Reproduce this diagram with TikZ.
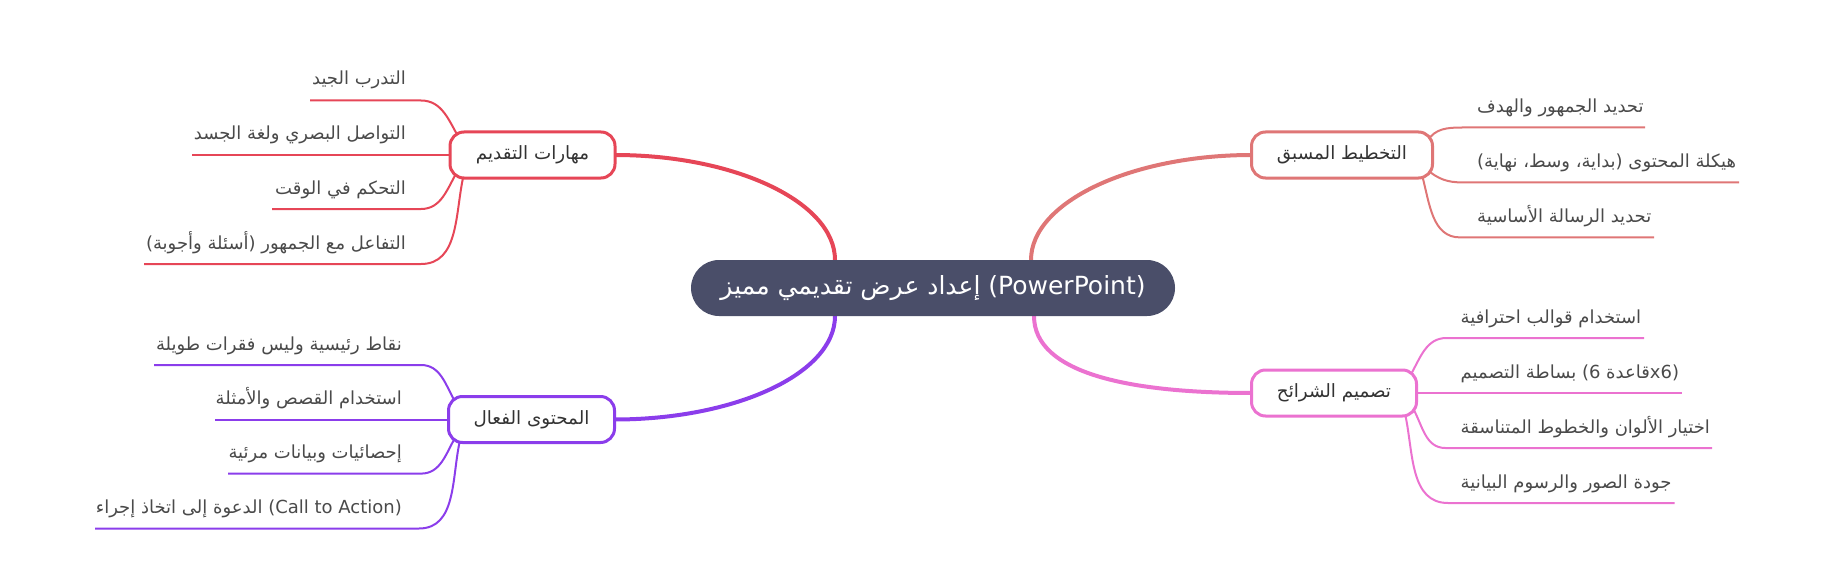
\documentclass[tikz,border=0pt]{standalone}
\usepackage{fontspec}
\setmainfont{DejaVu Sans}
\newfontfamily\arabicfont[Script=Arabic]{DejaVu Sans}
\TeXXeTstate=1
\newcommand\AR[1]{{\arabicfont\beginR #1\endR}}
\usetikzlibrary{calc,backgrounds}
\definecolor{cRed}{HTML}{E64657}
\definecolor{cSalmon}{HTML}{DF7676}
\definecolor{cPurple}{HTML}{8B3DEB}
\definecolor{cPink}{HTML}{EB72D0}
\definecolor{cCenter}{HTML}{4A4E69}
\definecolor{txtNode}{HTML}{333333}
\definecolor{txtLeaf}{HTML}{4A4A4A}
\begin{document}
\begin{tikzpicture}[x=1pt,y=-1pt,
  branchbox/.style={draw, line width=3pt, fill=white, rounded corners=14pt,
    minimum height=46pt, inner sep=0pt, outer sep=0pt,
    font=\fontsize{18.3}{21}\selectfont, text=txtNode},
  centerbox/.style={fill=cCenter, rounded corners=28pt, minimum width=484pt,
    minimum height=56pt, inner sep=0pt, outer sep=0pt,
    font=\fontsize{25}{28}\selectfont, text=white},
  leafL/.style={inner sep=0pt, anchor=base east, font=\fontsize{18}{21}\selectfont, text=txtLeaf},
  leafR/.style={inner sep=0pt, anchor=base west, font=\fontsize{18}{21}\selectfont, text=txtLeaf},
  mainedge/.style={line width=4pt},
  leafedge/.style={line width=2pt}]

\useasboundingbox (0,0) rectangle (1836,575);

% ---------- nodes ----------
\node[centerbox] (c) at (933,288) {\AR{إعداد عرض تقديمي مميز} (PowerPoint)};

\node[branchbox, draw=cRed, minimum width=165pt] (lt) at (532.5,155) {\AR{مهارات التقديم}};
\node[branchbox, draw=cPurple, minimum width=166pt] (lb) at (531.5,419.5) {\AR{المحتوى الفعال}};
\node[branchbox, draw=cSalmon, minimum width=181pt] (rt) at (1342,155) {\AR{التخطيط المسبق}};
\node[branchbox, draw=cPink, minimum width=165pt] (rb) at (1334,393) {\AR{تصميم الشرائح}};

% leaves: left top
\node[leafL] (lt1) at (406,85) {\AR{التدرب الجيد}};
\node[leafL] (lt2) at (406,139.5) {\AR{التواصل البصري ولغة الجسد}};
\node[leafL] (lt3) at (406,194) {\AR{التحكم في الوقت}};
\node[leafL] (lt4) at (406,249) {(\AR{أسئلة وأجوبة}) \AR{التفاعل مع الجمهور}};
% leaves: left bottom
\node[leafL] (lb1) at (402,350) {\AR{نقاط رئيسية وليس فقرات طويلة}};
\node[leafL] (lb2) at (402,404) {\AR{استخدام القصص والأمثلة}};
\node[leafL] (lb3) at (402,458.5) {\AR{إحصائيات وبيانات مرئية}};
\node[leafL] (lb4) at (402,513.5) {\AR{الدعوة إلى اتخاذ إجراء} (Call to Action)};
% leaves: right top
\node[leafR] (rt1) at (1477,112.5) {\AR{تحديد الجمهور والهدف}};
\node[leafR] (rt2) at (1477,167.5) {(\AR{بداية\hbox{،} وسط\hbox{،} نهاية}) \AR{هيكلة المحتوى}};
\node[leafR] (rt3) at (1477,222.5) {\AR{تحديد الرسالة الأساسية}};
% leaves: right bottom
\node[leafR] (rb1) at (1460.5,323) {\AR{استخدام قوالب احترافية}};
\node[leafR] (rb2) at (1460.5,378) {\AR{بساطة التصميم} (6 \AR{قاعدة}x6)};
\node[leafR] (rb3) at (1460.5,433) {\AR{اختيار الألوان والخطوط المتناسقة}};
\node[leafR] (rb4) at (1460.5,488) {\AR{جودة الصور والرسوم البيانية}};

% ---------- coordinates ----------
\coordinate (cTL) at ([xshift=-98pt]c.north);
\coordinate (cTR) at ([xshift=98pt]c.north);
\coordinate (cBL) at ([xshift=-98pt]c.south);
\coordinate (cBR) at ([xshift=101pt]c.south);

\coordinate (lt1a) at ($(lt.north west)+(9,6)$);
\coordinate (lt3a) at ($(lt.south west)+(7,-6)$);
\coordinate (lt4a) at ($(lt.south west)+(13,0)$);
\coordinate (lt1c) at (421,100.5); \coordinate (lt1e) at (310,100.5);
\coordinate (lt2e) at (192,155);
\coordinate (lt3c) at (421,209);   \coordinate (lt3e) at (272,209);
\coordinate (lt4c) at (421,264);   \coordinate (lt4e) at (144,264);

\coordinate (lb1a) at ($(lb.north west)+(7,6)$);
\coordinate (lb3a) at ($(lb.south west)+(7,-5.5)$);
\coordinate (lb4a) at ($(lb.south west)+(11,0)$);
\coordinate (lb1c) at (421,365);   \coordinate (lb1e) at (154,365);
\coordinate (lb2e) at (215,419.5);
\coordinate (lb3c) at (421,473.6); \coordinate (lb3e) at (228,473.6);
\coordinate (lb4c) at (419,528.5); \coordinate (lb4e) at (95,528.5);

\coordinate (rt1a) at ($(rt.north east)+(-5,9)$);
\coordinate (rt2a) at ($(rt.south east)+(-5,-8)$);
\coordinate (rt3a) at ($(rt.south east)+(-10,-1)$);
\coordinate (rt1c) at (1462,127.5); \coordinate (rt1e) at (1645,127.5);
\coordinate (rt2c) at (1462,182.4); \coordinate (rt2e) at (1739,182.4);
\coordinate (rt3c) at (1460,237.4); \coordinate (rt3e) at (1654,237.4);

\coordinate (rb1a) at ($(rb.north east)+(-6.5,6)$);
\coordinate (rb3a) at ($(rb.south east)+(-4,-8.5)$);
\coordinate (rb4a) at ($(rb.south east)+(-11,0)$);
\coordinate (rb1c) at (1446.5,338); \coordinate (rb1e) at (1644,338);
\coordinate (rb2e) at (1681.6,393);
\coordinate (rb3c) at (1445.4,448); \coordinate (rb3e) at (1712,448);
\coordinate (rb4c) at (1448,503);   \coordinate (rb4e) at (1674.6,503);

% ---------- connectors ----------
\begin{pgfonlayer}{background}
\draw[mainedge,cRed]    (lt.east) .. controls +(120,0) and +(0,-58) .. (cTL);
\draw[mainedge,cPurple] (lb.east) .. controls +(120,0) and +(0,58) .. (cBL);
\draw[mainedge,cSalmon] (rt.west) .. controls +(-120,0) and +(0,-58) .. (cTR);
\draw[mainedge,cPink]   (rb.west) .. controls +(-120,0) and +(0,58) .. (cBR);

\draw[leafedge,cRed] (lt1a) to[out=120,in=0] (lt1c) -- (lt1e);
\draw[leafedge,cRed] (lt.west) -- (lt2e);
\draw[leafedge,cRed] (lt3a) to[out=240,in=0] (lt3c) -- (lt3e);
\draw[leafedge,cRed] (lt4a) to[out=258,in=0] (lt4c) -- (lt4e);

\draw[leafedge,cPurple] (lb1a) to[out=120,in=0] (lb1c) -- (lb1e);
\draw[leafedge,cPurple] (lb.west) -- (lb2e);
\draw[leafedge,cPurple] (lb3a) to[out=240,in=0] (lb3c) -- (lb3e);
\draw[leafedge,cPurple] (lb4a) to[out=258,in=0] (lb4c) -- (lb4e);

\draw[leafedge,cSalmon] (rt1a) to[out=60,in=180] (rt1c) -- (rt1e);
\draw[leafedge,cSalmon] (rt2a) to[out=-40,in=180] (rt2c) -- (rt2e);
\draw[leafedge,cSalmon] (rt3a) to[out=285,in=180] (rt3c) -- (rt3e);

\draw[leafedge,cPink] (rb1a) to[out=60,in=180] (rb1c) -- (rb1e);
\draw[leafedge,cPink] (rb.east) -- (rb2e);
\draw[leafedge,cPink] (rb3a) to[out=-60,in=180] (rb3c) -- (rb3e);
\draw[leafedge,cPink] (rb4a) to[out=282,in=180] (rb4c) -- (rb4e);
\end{pgfonlayer}
\end{tikzpicture}
\end{document}
